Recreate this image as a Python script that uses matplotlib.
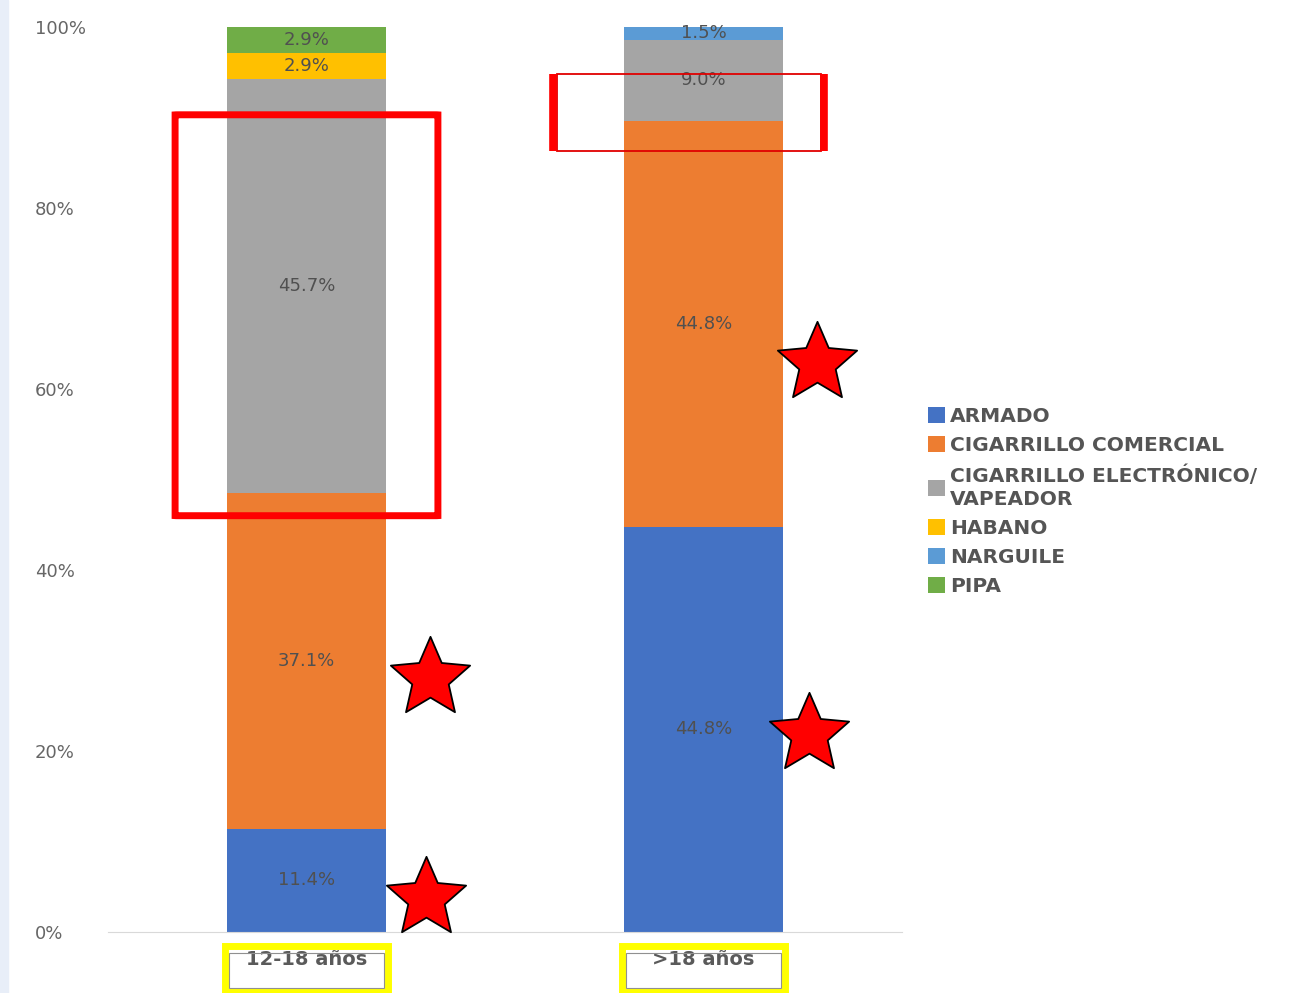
import matplotlib.pyplot as plt
from matplotlib.patches import Patch, Rectangle, FancyBboxPatch
from matplotlib.path import Path

# data
groups = ['12-18 años', '>18 años']
series = ['ARMADO', 'CIGARRILLO COMERCIAL', 'CIGARRILLO ELECTRÓNICO/\nVAPEADOR',
          'HABANO', 'NARGUILE', 'PIPA']
armado = [11.4, 44.8]
comercial = [37.1, 44.8]
electronico = [45.7, 9.0]
habano = [2.9, 0.0]
narguile = [0.0, 1.5]
pipa = [2.9, 0.0]
values = [armado, comercial, electronico, habano, narguile, pipa]
colors = ['#4472C4', '#ED7D31', '#A5A5A5', '#FFC000', '#5B9BD5', '#70AD47']
yticks = [0, 20, 40, 60, 80, 100]

# highlight marks placed over the chart (data coordinates)
stars = [(0.31, 28.1), (0.30, 3.8), (1.285, 62.9), (1.267, 21.9)]

plt.rcParams['font.family'] = ['DejaVu Sans']

fig = plt.figure(figsize=(12.96, 9.93), dpi=100)
ax = fig.add_axes([108 / 1296, 1 - 932 / 993, (902 - 108) / 1296, 905 / 993])

# light strip on the left edge of the screenshot
fig.patches.append(Rectangle((0, 0), 8 / 1296, 1, transform=fig.transFigure,
                             color='#e8eef8', zorder=0))

x = list(range(len(groups)))
bottom = [0.0] * len(groups)
for vals, col in zip(values, colors):
    ax.bar(x, vals, bottom=bottom, width=0.4, color=col, zorder=2)
    for i, v in enumerate(vals):
        if v > 0:
            top = min(bottom[i] + v, 100)
            ax.text(x[i], (bottom[i] + top) / 2, f'{v:.1f}%', ha='center',
                    va='center', fontsize=13, color='#505050', zorder=3)
    bottom = [b + v for b, v in zip(bottom, vals)]

ax.set_xlim(-0.5, 1.5)
ax.set_ylim(0, 100)
ax.set_yticks(yticks)
ax.set_yticklabels([f'{t}%' for t in yticks], fontsize=13, color='#666666')
for lab in ax.get_yticklabels():
    lab.set_horizontalalignment('left')
ax.tick_params(axis='y', length=0, pad=52.5)
ax.set_xticks(x)
ax.set_xticklabels(groups, fontsize=14, fontweight='bold', color='#5a5a5a')
ax.tick_params(axis='x', length=0, pad=13)
for s in ['left', 'right', 'top']:
    ax.spines[s].set_visible(False)
ax.spines['bottom'].set_color('#d9d9d9')

handles = [Patch(facecolor=c, edgecolor='none') for c in colors]
leg = fig.legend(handles, series, loc='upper left',
                 bbox_to_anchor=(928 / 1296, 1 - 407 / 993), frameon=False,
                 fontsize=14.5, handlelength=0.85, handleheight=0.85,
                 handletextpad=0.25, labelspacing=0.5, borderpad=0, borderaxespad=0)
for t in leg.get_texts():
    t.set_color('#555555')
    t.set_fontweight('bold')
    t.set_linespacing(1.3)

# red boxes
ax.add_patch(FancyBboxPatch((-0.331, 46.0), 0.662, 44.3, boxstyle='round,pad=0,rounding_size=0.01',
                            fill=False, edgecolor='red', linewidth=5, clip_on=False, zorder=5))
ax.add_patch(Rectangle((0.630, 86.3), 0.665, 8.5, fill=False, edgecolor='#e00000',
                       linewidth=1.3, clip_on=False, zorder=5))
for xs in [0.622, 1.303]:
    ax.plot([xs, xs], [86.3, 94.8], color='red', linewidth=5.5, solid_capstyle='butt',
            clip_on=False, zorder=5)

# yellow boxes around the category labels
for xc in x:
    ax.add_patch(Rectangle((xc - 0.205, -6.6), 0.41, 5.0, fill=False, edgecolor='yellow',
                           linewidth=5, clip_on=False, zorder=5))
    ax.add_patch(Rectangle((xc - 0.195, -6.2), 0.39, 3.9, fill=False, edgecolor='#909090',
                           linewidth=0.8, clip_on=False, zorder=5))

star_path = Path.unit_regular_star(5, 0.46)
for sx, sy in stars:
    ax.plot(sx, sy, marker=star_path, markersize=60, markerfacecolor='red',
            markeredgecolor='black', markeredgewidth=1.3, clip_on=False, zorder=6)

fig.savefig('out.png', dpi=100)
